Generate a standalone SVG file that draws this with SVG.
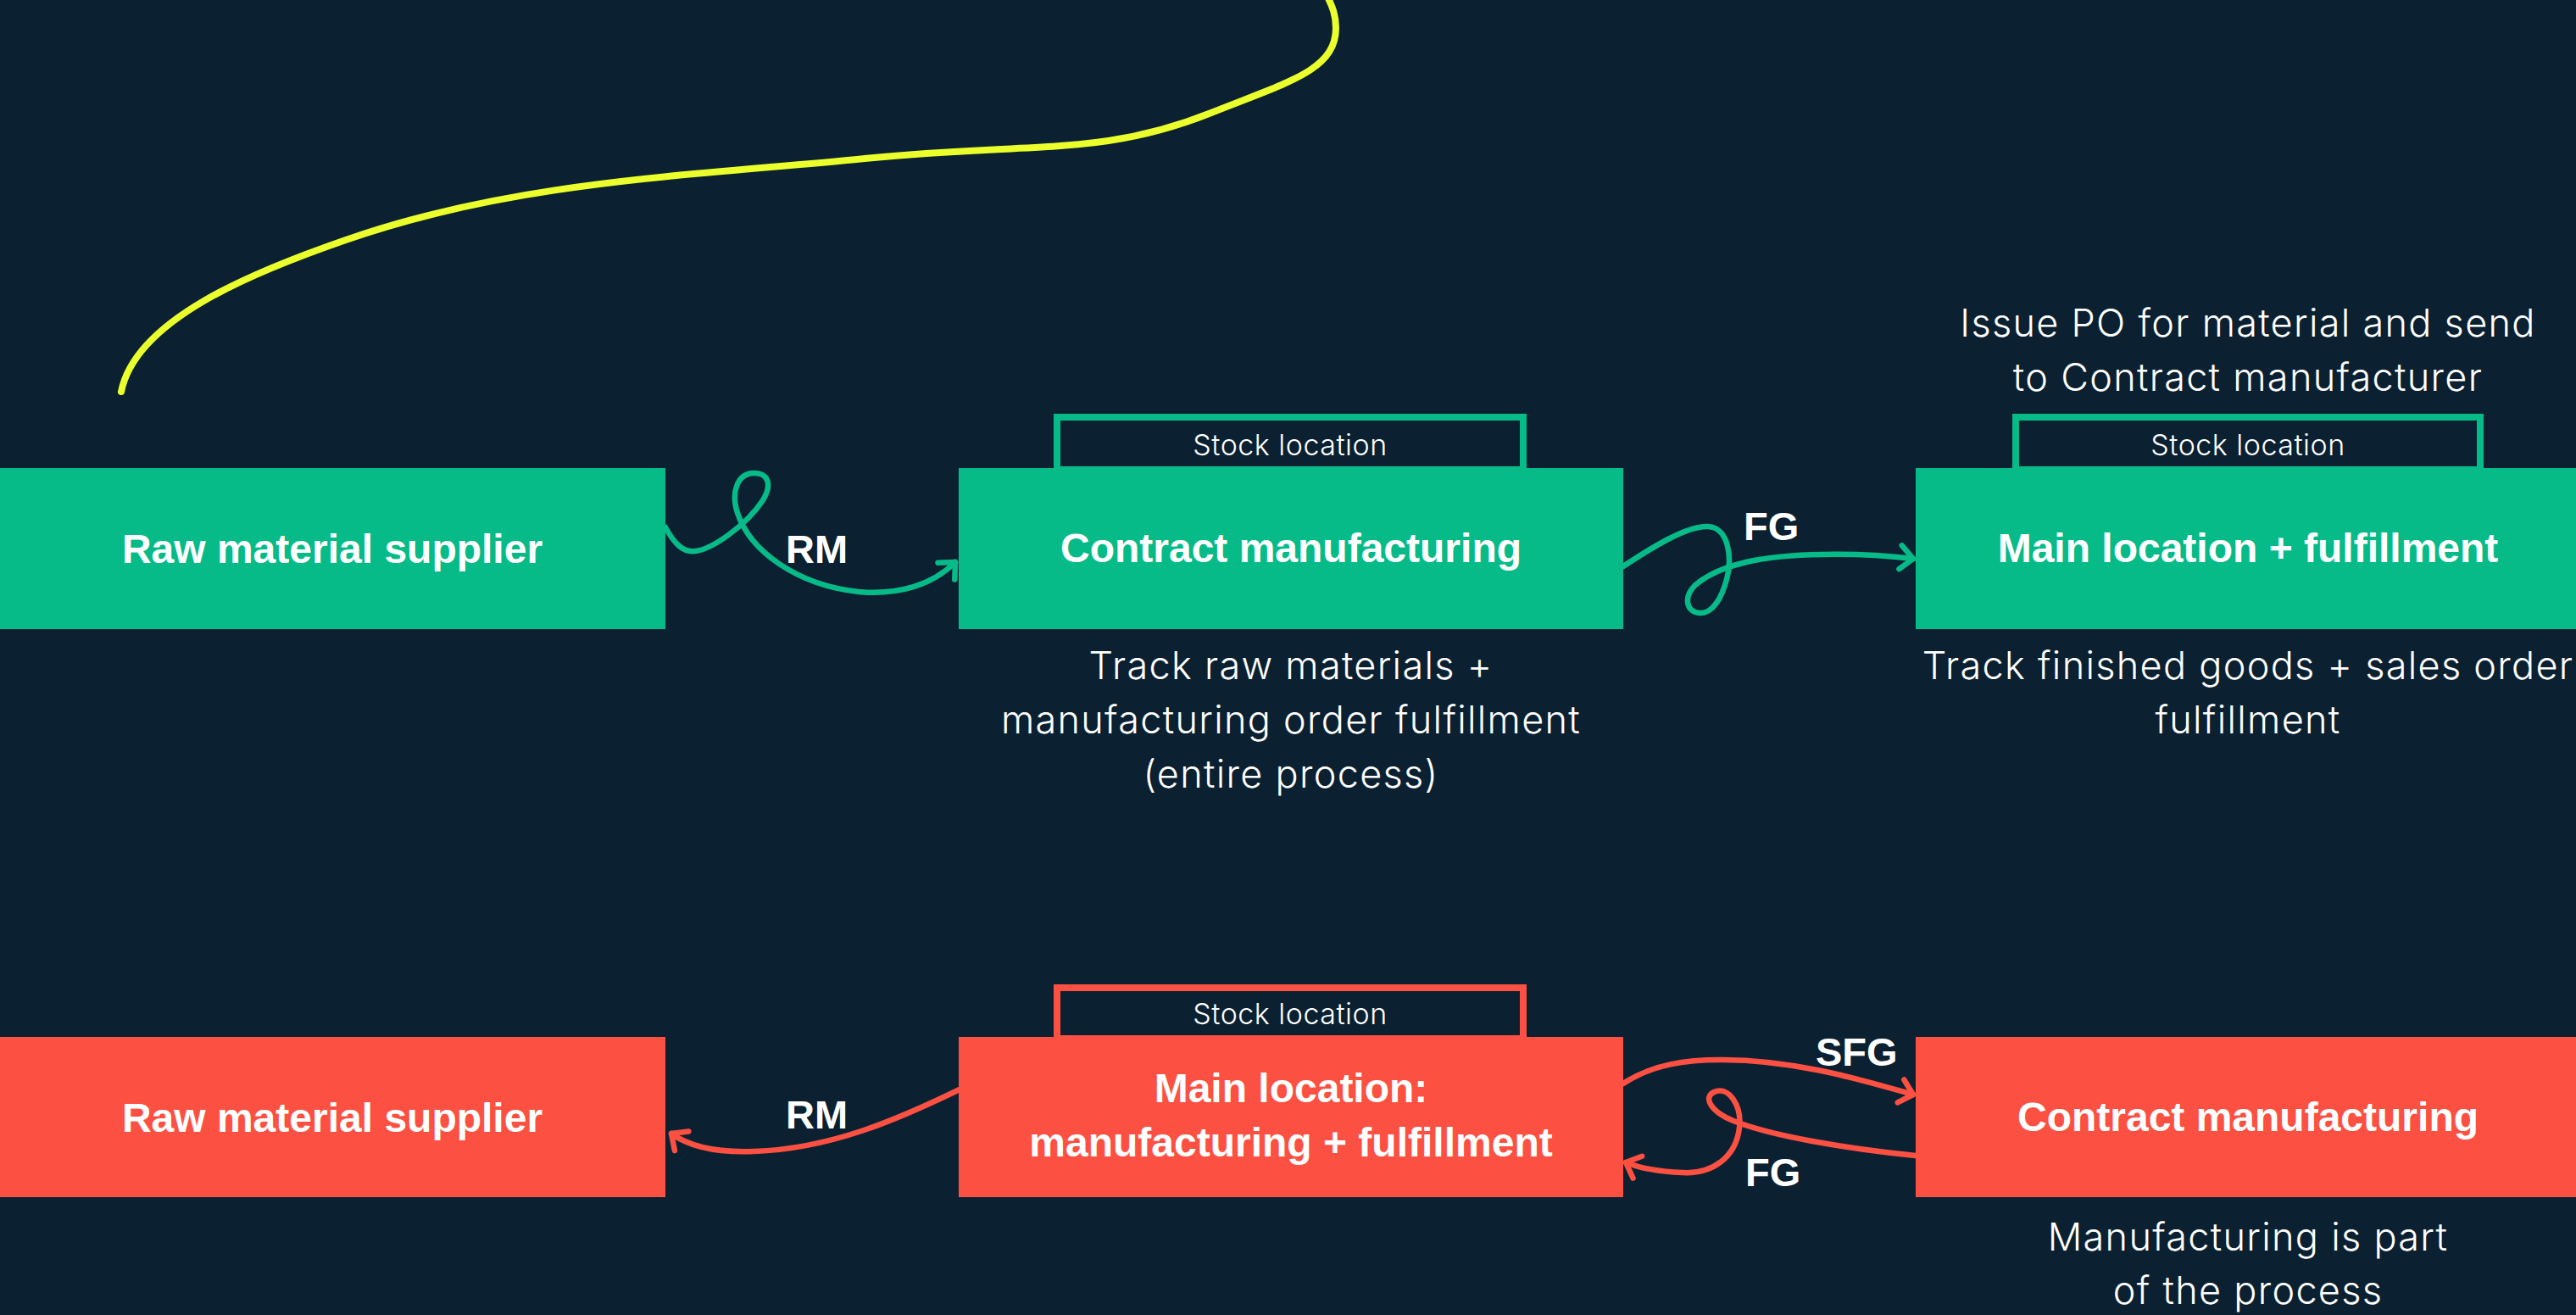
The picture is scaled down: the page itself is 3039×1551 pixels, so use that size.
<svg xmlns="http://www.w3.org/2000/svg" width="3039" height="1551" viewBox="0 0 3039 1551">
  <defs>
    <style>
      .bg { fill: #0b2131; }
      .g { fill: #07bb89; }
      .r { fill: #fb5042; }
      .tab-g { fill: #0b2131; stroke: #07bb89; stroke-width: 8; }
      .tab-r { fill: #0b2131; stroke: #fb5042; stroke-width: 8; }
      .title { font-family: "Liberation Sans", Arial, sans-serif; font-weight: 700; font-size: 48px; fill: #ffffff; text-anchor: middle; }
      .lbl { font-family: "Liberation Sans", Arial, sans-serif; font-weight: 700; font-size: 47px; fill: #ffffff; }
      .desc { font-family: Inter, "Liberation Sans", sans-serif; font-weight: 300; font-size: 45px; letter-spacing: 1.3px; fill: #ffffff; text-anchor: middle; }
      .tabtxt { font-family: Inter, "Liberation Sans", sans-serif; font-weight: 300; font-size: 34px; letter-spacing: 0.5px; fill: #ffffff; text-anchor: middle; }
      .cg { fill: none; stroke: #07bb89; stroke-width: 6.5; stroke-linecap: round; stroke-linejoin: round; }
      .cr { fill: none; stroke: #fb5042; stroke-width: 6.5; stroke-linecap: round; stroke-linejoin: round; }
      .y { fill: none; stroke: #eaff2c; stroke-width: 8; stroke-linecap: round; }
    </style>
    <marker id="ag" viewBox="-20 -20 40 40" markerWidth="40" markerHeight="40" markerUnits="userSpaceOnUse" orient="auto" refX="0" refY="0">
      <path d="M-15,-14 L0,0 L-15,14" fill="none" stroke="#07bb89" stroke-width="6.5" stroke-linecap="round" stroke-linejoin="round"/>
    </marker>
    <marker id="ar" viewBox="-20 -20 40 40" markerWidth="40" markerHeight="40" markerUnits="userSpaceOnUse" orient="auto" refX="0" refY="0">
      <path d="M-15,-14 L0,0 L-15,14" fill="none" stroke="#fb5042" stroke-width="6.5" stroke-linecap="round" stroke-linejoin="round"/>
    </marker>
  </defs>

  <rect class="bg" x="0" y="0" width="3039" height="1551"/>

  <path class="y" d="M143,462 C160,377 298,321 408,283 C608,213 820,207 1020,187 S1299,185 1429,133 C1519,97 1576,83 1576,33 C1576,18 1572,8 1566,-4"/>

  <g id="g-raw">
    <rect class="g" x="0" y="552" width="785" height="190"/>
    <text class="title" x="392" y="664">Raw material supplier</text>
  </g>
  <g id="g-contract">
    <rect class="tab-g" x="1247" y="492" width="550" height="62"/>
    <text class="tabtxt" x="1522" y="537">Stock location</text>
    <rect class="g" x="1131" y="552" width="784" height="190"/>
    <text class="title" x="1523" y="663">Contract manufacturing</text>
    <text class="desc" x="1523" y="801">Track raw materials +</text>
    <text class="desc" x="1523" y="865">manufacturing order fulfillment</text>
    <text class="desc" x="1523" y="929">(entire process)</text>
  </g>
  <g id="g-main">
    <text class="desc" x="2652" y="397">Issue PO for material and send</text>
    <text class="desc" x="2652" y="461">to Contract manufacturer</text>
    <rect class="tab-g" x="2378" y="492" width="548" height="62"/>
    <text class="tabtxt" x="2652" y="537">Stock location</text>
    <rect class="g" x="2260" y="552" width="779" height="190"/>
    <text class="title" x="2652" y="663">Main location + fulfillment</text>
    <text class="desc" x="2652" y="801">Track finished goods + sales order</text>
    <text class="desc" x="2652" y="865">fulfillment</text>
  </g>

  <g id="r-raw">
    <rect class="r" x="0" y="1223" width="785" height="189"/>
    <text class="title" x="392" y="1335">Raw material supplier</text>
  </g>
  <g id="r-main">
    <rect class="tab-r" x="1247" y="1165" width="550" height="60"/>
    <text class="tabtxt" x="1522" y="1208">Stock location</text>
    <rect class="r" x="1131" y="1223" width="784" height="189"/>
    <text class="title" x="1523" y="1300">Main location:</text>
    <text class="title" x="1523" y="1364">manufacturing + fulfillment</text>
  </g>
  <g id="r-contract">
    <rect class="r" x="2260" y="1223" width="779" height="189"/>
    <text class="title" x="2652" y="1334">Contract manufacturing</text>
    <text class="desc" x="2652" y="1475">Manufacturing is part</text>
    <text class="desc" x="2652" y="1538">of the process</text>
  </g>

  <g id="connectors">
    <path class="cg" marker-end="url(#ag)" d="M785,622 C795,640 805,652 820,650 C840,648 880,620 900,590 C912,570 905,558 890,558 C870,558 862,580 870,605 C885,650 940,690 1013,698 C1060,702 1100,690 1127,663"/>
    <text class="lbl" x="927" y="664">RM</text>
    <path class="cg" marker-end="url(#ag)" d="M1915,668 C1950,645 1990,620 2015,621 C2040,622 2045,660 2035,690 C2027,715 2015,724 2005,723 C1990,722 1985,705 2000,690 C2030,665 2080,655 2150,654 C2200,653 2240,657 2257,659"/>
    <text class="lbl" x="2057" y="637">FG</text>
    <path class="cr" marker-end="url(#ar)" d="M1132,1285 C1060,1320 980,1355 890,1358 C840,1360 810,1350 792,1337"/>
    <text class="lbl" x="927" y="1331">RM</text>
    <path class="cr" marker-end="url(#ar)" d="M1915,1278 C1950,1255 1990,1250 2030,1250 C2120,1250 2200,1275 2257,1291"/>
    <text class="lbl" x="2142" y="1257">SFG</text>
    <path class="cr" marker-end="url(#ar)" d="M2260,1363 C2180,1355 2090,1340 2045,1322 C2020,1312 2008,1295 2022,1288 C2040,1280 2055,1305 2052,1330 C2048,1365 2020,1385 1985,1383 C1960,1382 1935,1378 1918,1371"/>
    <text class="lbl" x="2059" y="1399">FG</text>
  </g>
</svg>
